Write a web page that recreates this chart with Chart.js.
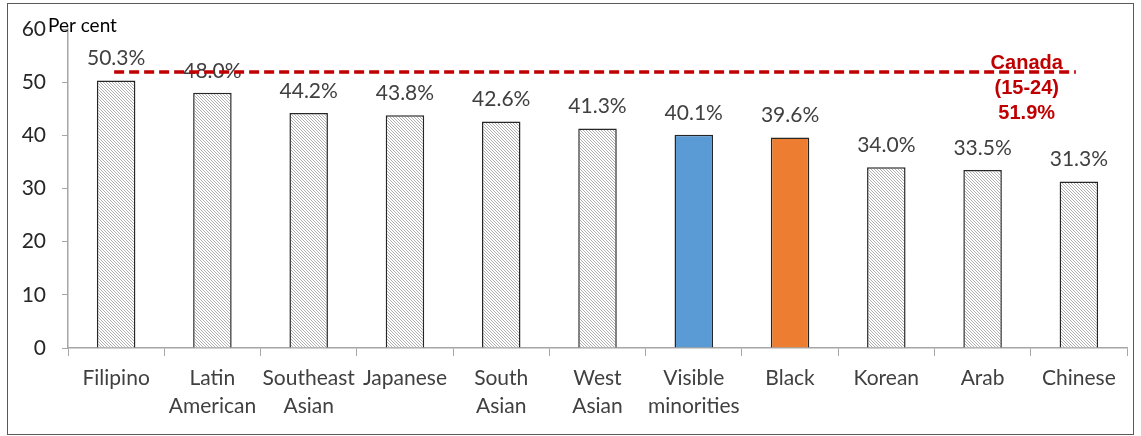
<!DOCTYPE html>
<html>
<head>
<meta charset="utf-8">
<script src="https://cdn.jsdelivr.net/npm/chart.js@4"></script>
<style>
  html, body { margin: 0; padding: 0; background: #fff; }
  #wrap { position: relative; width: 1141px; height: 436px; }
  #frame { position: absolute; left: 7px; top: 3px; width: 1125px; height: 430px; border: 1px solid #595959; pointer-events: none; }
  canvas { position: absolute; left: 0; top: 0; }
</style>
</head>
<body>
<div id="wrap">
  <canvas id="chart" width="1141" height="436"></canvas>
  <div id="frame"></div>
</div>
<script>
const groups = [["Filipino"], ["Latin", "American"], ["Southeast", "Asian"], ["Japanese"], ["South", "Asian"], ["West", "Asian"], ["Visible", "minorities"], ["Black"], ["Korean"], ["Arab"], ["Chinese"]];
const shares = [50.3, 48.0, 44.2, 43.8, 42.6, 41.3, 40.1, 39.6, 34.0, 33.5, 31.3];
const canadaRate = 51.9;
const canadaLabel = ["Canada", "(15-24)", "51.9%"];
const yTicks = [0, 10, 20, 30, 40, 50, 60];

const FONT = "Lato, 'Open Sans', sans-serif";
const TEXT = '#404040';

// fine diagonal hatch for the plain bars
function hatch() {
    const c = document.createElement('canvas');
    c.width = 3; c.height = 3;
    const g = c.getContext('2d');
    g.fillStyle = '#fff';
    g.fillRect(0, 0, 3, 3);
    g.fillStyle = '#b0b0b0';
    for (let i = 0; i < 3; i++) g.fillRect(i, i, 1, 1);
    return g.createPattern(c, 'repeat');
}

const ctx = document.getElementById('chart').getContext('2d');
const pat = hatch();
const fills = groups.map(g => {
    if (g[0] === 'Visible') return '#5B9BD5';
    if (g[0] === 'Black') return '#ED7D31';
    return pat;
});

const valueLabels = {
    id: 'valueLabels',
    afterDatasetsDraw(chart) {
        const c = chart.ctx;
        const meta = chart.getDatasetMeta(0);
        c.save();
        c.font = '21px ' + FONT;
        c.fillStyle = TEXT;
        c.textAlign = 'center';
        c.textBaseline = 'middle';
        meta.data.forEach((bar, i) => {
            c.fillText(shares[i].toFixed(1) + '%', bar.x, bar.y - 22);
        });
        c.restore();
    }
};

const canadaLine = {
    id: 'canadaLine',
    afterDatasetsDraw(chart) {
        const c = chart.ctx;
        const x = chart.scales.x, y = chart.scales.y;
        const py = y.getPixelForValue(canadaRate);
        c.save();
        c.strokeStyle = '#C00000';
        c.lineWidth = 3.5;
        c.setLineDash([10, 5]);
        c.beginPath();
        c.moveTo(x.getPixelForValue(0) - 2, py);
        c.lineTo(x.getPixelForValue(shares.length - 1) - 3, py);
        c.stroke();
        c.setLineDash([]);
        c.font = "bold 20px 'Liberation Sans', Arial, sans-serif";
        c.fillStyle = '#C00000';
        c.textAlign = 'center';
        c.textBaseline = 'middle';
        const cx = (x.getPixelForValue(9) + x.getPixelForValue(10)) / 2 - 4;
        canadaLabel.forEach((t, i) => c.fillText(t, cx, py - 9 + i * 25));
        // axis title next to the top tick
        c.font = '19px ' + FONT;
        c.fillStyle = '#000';
        c.textAlign = 'left';
        c.fillText('Per cent', y.right - 20, y.top - 3);
        c.restore();
    }
};

new Chart(ctx, {
    type: 'bar',
    data: {
        labels: groups,
        datasets: [{
            data: shares,
            backgroundColor: fills,
            borderColor: '#262626',
            borderWidth: 1.5,
            borderSkipped: 'bottom',
            barPercentage: 0.4,
            categoryPercentage: 1.0
        }]
    },
    options: {
        responsive: false,
        animation: false,
        events: [],
        layout: { padding: { top: 29, right: 14, left: 0, bottom: 0 } },
        plugins: { legend: { display: false }, tooltip: { enabled: false } },
        scales: {
            x: {
                grid: { display: true, drawOnChartArea: false, drawTicks: true, tickLength: 8, color: '#a6a6a6', offset: true },
                border: { color: '#a6a6a6', width: 1.5 },
                ticks: { color: TEXT, font: { size: 21, family: FONT, lineHeight: 1.3 }, padding: 9, maxRotation: 0, autoSkip: false },
                afterFit(s) { s.height = 88; }
            },
            y: {
                min: 0, max: 60,
                afterBuildTicks(s) { s.ticks = yTicks.map(v => ({ value: v })); },
                grid: { display: true, drawOnChartArea: false, drawTicks: true, tickLength: 6, color: '#a6a6a6' },
                border: { color: '#a6a6a6', width: 1.5 },
                ticks: { color: '#262626', font: { size: 21, family: FONT }, padding: 16 },
                afterFit(s) { s.width = 68; }
            }
        }
    },
    plugins: [valueLabels, canadaLine]
});
</script>
</body>
</html>
